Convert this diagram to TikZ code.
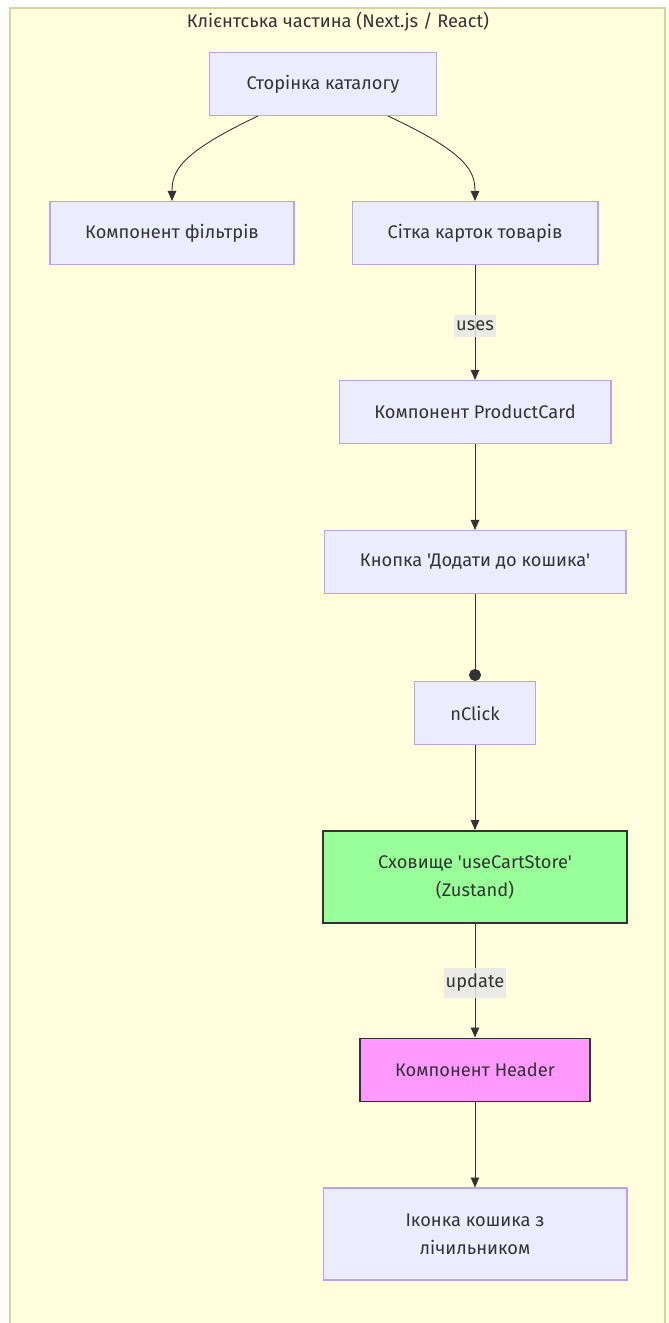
\documentclass[tikz,border=0pt]{standalone}
\usepackage{fontspec}
\setmainfont[Ligatures=TeXOff]{Fira Sans}
\newcommand{\BoxH}{1.26cm}
\newcommand{\TallH}{1.84cm}
\newcommand{\ClientTitle}{Клієнтська частина (Next.js / React)}
\usepackage{xcolor}
\usepackage{tikz}
\usetikzlibrary{arrows.meta,calc,positioning}
\definecolor{ClusterFill}{HTML}{FFFFDE}
\definecolor{ClusterLine}{HTML}{D6D69A}
\definecolor{NodeFill}{HTML}{ECECFF}
\definecolor{NodeLine}{HTML}{B9A3EC}
\definecolor{StoreFill}{HTML}{99FF99}
\definecolor{HeadFill}{HTML}{FF99FF}
\definecolor{InkGrey}{HTML}{333333}
\definecolor{LabelBg}{HTML}{E8E8E8}

\begin{document}
\begin{tikzpicture}[x=0.02cm,y=-0.02cm,
 font=\fontsize{10.4}{15.9}\selectfont, text=InkGrey,
 box/.style={draw=NodeLine,fill=NodeFill,line width=0.6pt,minimum height=\BoxH,align=center,inner sep=0pt},
 strongbox/.style={box,draw=InkGrey,line width=1.1pt},
 edge/.style={draw=InkGrey,line width=0.5pt,-{Triangle[length=0.2cm,width=0.17cm]}},
 clickedge/.style={draw=InkGrey,line width=0.5pt,-{Circle[length=0.24cm]}},
 lbl/.style={fill=LabelBg,fill opacity=0.85,text opacity=1,inner xsep=1pt,inner ysep=3.5pt}]
\useasboundingbox (0,0) rectangle (669,1323);
\draw[draw=ClusterLine,fill=ClusterFill,line width=0.8pt] (10,8) rectangle (665,1330);
\node (title) at (338,22) {\ClientTitle};
\node[box,minimum width=4.54cm] (page) at (323,84) {Сторінка каталогу};
\node[box,minimum width=4.88cm] (filters) at (172,233) {Компонент фільтрів};
\node[box,minimum width=4.92cm] (grid) at (475,233) {Сітка карток товарів};
\node[box,minimum width=5.44cm] (card) at (475,412) {Компонент ProductCard};
\node[box,minimum width=6.04cm] (button) at (475,562) {Кнопка 'Додати до кошика'};
\node[box,minimum width=2.42cm] (click) at (475,713) {nClick};
\node[strongbox,fill=StoreFill,minimum width=6.08cm,minimum height=\TallH] (store) at (475,877) {Сховище 'useCartStore'\\(Zustand)};
\node[strongbox,fill=HeadFill,minimum width=4.6cm] (header) at (475,1070) {Компонент Header};
\node[box,minimum width=6.08cm,minimum height=\TallH] (icon) at (475,1234) {Іконка кошика з\\лічильником};
\draw[edge] ($(page.south)+(-65,0)$) .. controls ($(filters.north)+(8,-48)$) and ($(filters.north)+(0,-30)$) .. (filters.north);
\draw[edge] ($(page.south)+(65,0)$) .. controls ($(grid.north)+(-8,-48)$) and ($(grid.north)+(0,-30)$) .. (grid.north);
\draw[edge] (grid) -- node[lbl,pos=0.53] (uses) {uses} (card);
\draw[edge] (card) -- (button);
\draw[clickedge] (button) -- (click);
\draw[edge] (click) -- (store);
\draw[edge] (store) -- node[lbl,pos=0.52] (update) {update} (header);
\draw[edge] (header) -- (icon);
\end{tikzpicture}
\end{document}
